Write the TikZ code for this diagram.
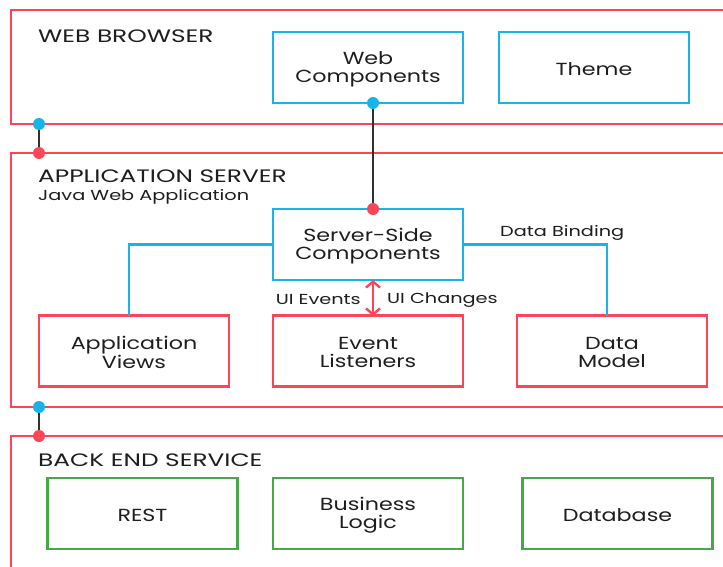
\documentclass[tikz,border=0pt]{standalone}
\usepackage{fontspec}
\setmainfont{Poppins}[FakeStretch=1.27]
\newfontfamily\titlefont{Poppins}[FakeStretch=1.38]
\newfontfamily\notefont{Poppins}[FakeStretch=1.33]
\usetikzlibrary{arrows.meta}
\definecolor{tierred}{RGB}{250,70,86}
\definecolor{compblue}{RGB}{22,180,232}
\definecolor{svcgreen}{RGB}{72,168,72}
\definecolor{linkgray}{RGB}{50,50,50}
\definecolor{inktext}{RGB}{30,30,30}
\tikzset{
  tier/.style={draw=tierred, line width=2.4pt},
  boxtext/.style={align=center, text=inktext, inner sep=0pt, yshift=-1.6pt,
    font=\fontsize{17.5}{17.5}\selectfont},
  box/.style={rectangle, line width=2.4pt, minimum width=190pt, minimum height=71pt,
    inner sep=0pt, label={[boxtext]center:#1}},
  bluebox/.style={box=#1, draw=compblue},
  redbox/.style={box=#1, draw=tierred},
  greenbox/.style={box=#1, draw=svcgreen},
  tiertitle/.style={anchor=west, text=inktext, inner sep=0pt, yshift=-1pt,
    font=\titlefont\fontsize{18}{18}\selectfont},
  small/.style={text=inktext, inner sep=0pt, yshift=-2pt,
    font=\notefont\fontsize{14.5}{15}\selectfont},
  bluedot/.style={circle, fill=compblue, minimum size=12pt, inner sep=0pt},
  reddot/.style={circle, fill=tierred, minimum size=12pt, inner sep=0pt},
  link/.style={draw=linkgray, line width=2.6pt},
  bind/.style={draw=compblue, line width=2.4pt},
}
\begin{document}
\begin{tikzpicture}[x=1pt, y=-1pt]
\useasboundingbox (0,0) rectangle (723,567);
\fill[white] (0,0) rectangle (723,567);

% the three tiers, running off the right and bottom edges
\begin{scope}
\clip (0,0) rectangle (723,567);
\draw[tier] (11,10) rectangle (740,124);
\draw[tier] (11,153) rectangle (740,407);
\draw[tier] (11,436) rectangle (740,590);
\end{scope}

% tier titles
\node[tiertitle] (tbrowser) at (38,35) {WEB BROWSER};
\node[tiertitle] (tserver) at (38,175) {APPLICATION SERVER};
\node[small, anchor=west] (tjava) at (38,195) {Java Web Application};
\node[tiertitle] (tbackend) at (38,459) {BACK END SERVICE};

% web browser components
\node[bluebox={Web\\Components}] (webcomp) at (368,67.5) {};
\node[bluebox={Theme}] (theme) at (594,67.5) {};

% application server components
\node[bluebox={Server-Side\\Components}] (server) at (368,244.5) {};
\node[redbox={Application\\Views}] (views) at (134,351) {};
\node[redbox={Event\\Listeners}] (listeners) at (368,351) {};
\node[redbox={Data\\Model}] (model) at (612,351) {};

% back end components
\node[greenbox={REST}] (rest) at (142.5,513.5) {};
\node[greenbox={Business\\Logic}] (logic) at (368,513.5) {};
\node[greenbox={Database}] (database) at (617.5,513.5) {};

% link between web components and server-side components
\node[bluedot] (wcdot) at (373,103) {};
\node[reddot] (ssdot) at (373,209) {};
\draw[link] (wcdot) -- (ssdot);

% links between tiers
\node[bluedot] (b1) at (39,124) {};
\node[reddot] (r1) at (39,153) {};
\draw[link] (b1) -- (r1);
\node[bluedot] (b2) at (39,407) {};
\node[reddot] (r2) at (39,436) {};
\draw[link] (b2) -- (r2);

% server-side components to views and data model
\draw[bind] (server.west) -- (129,244.5) -- (129,316);
\draw[bind] (server.east) -- (607,244.5) -- (607,316);
\node[small, anchor=west] (binding) at (500,231) {Data Binding};

% events and changes between server-side components and listeners
\coordinate (evtop) at (373,280);
\coordinate (evbot) at (373,316);
\draw[draw=tierred, line width=2.4pt, {Straight Barb[length=6pt,width=14pt]}-{Straight Barb[length=6pt,width=14pt]}] (evtop) -- (evbot);
\node[small, anchor=east] (uievents) at (361,298) {UI Events};
\node[small, anchor=west] (uichanges) at (387,298) {UI Changes};
\end{tikzpicture}
\end{document}
